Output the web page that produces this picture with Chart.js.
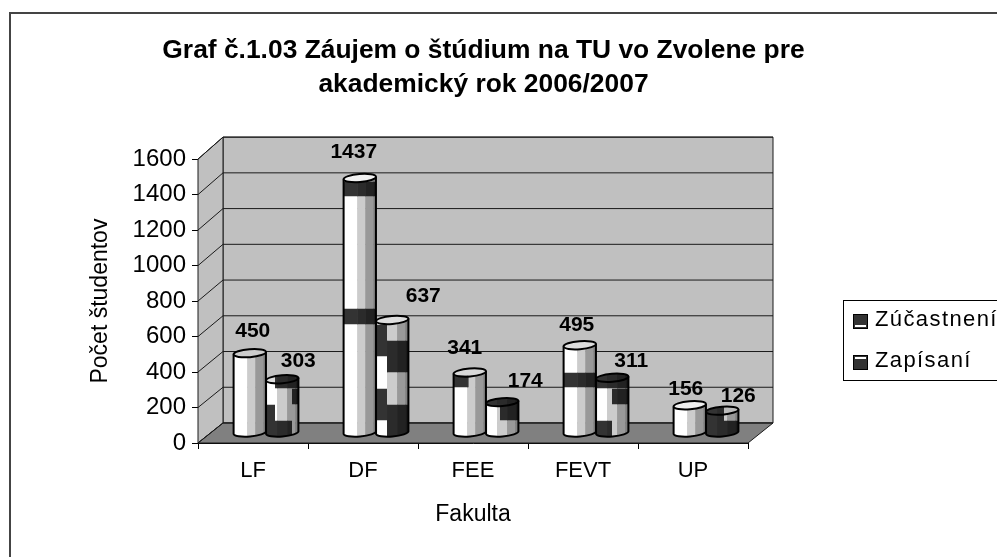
<!DOCTYPE html>
<html>
<head>
<meta charset="utf-8">
<style>
	html, body { margin: 0; padding: 0; background: #fff; overflow: hidden; }
	#wrap { position: absolute; left: 0; top: 0; width: 997px; height: 557px; }
</style>
<script src="https://cdn.jsdelivr.net/npm/chart.js@4"></script>
</head>
<body>
<div id="wrap"><canvas id="chart" width="997" height="557"></canvas></div>
<script>
const categories = ["LF", "DF", "FEE", "FEVT", "UP"];
const zucastneni = [450, 1437, 341, 495, 156];
const zapisani = [303, 637, 174, 311, 126];
const yTicks = [0, 200, 400, 600, 800, 1000, 1200, 1400, 1600];
const titleLines = ["Graf č.1.03 Záujem o štúdium na TU vo Zvolene pre", "akademický rok 2006/2007"];

// 3D look, nothing here is data
const depthX = 25;
const depthY = 20;
const barShift = 13;
const barDrop = 10;
const bodyColumns = [
	[[0.42, "#ffffff", "#333333"], [0.67, "#cccccc", "#2b2b2b"], [0.92, "#999999", "#222222"], [1, "#808080", "#1a1a1a"]],
	[[0.34, "#ffffff", "#333333"], [0.65, "#cccccc", "#2b2b2b"], [0.9, "#999999", "#222222"], [1, "#808080", "#1a1a1a"]],
];
// dark blocks on the cylinders: [from, to, above base top, above base bottom] in px
const darkBlocks = [
	[
		[],
		[[0, 34, 251, 236], [0, 34, 124, 108]],
		[[0, 15, 57, 45]],
		[[0, 34, 60, 45]],
		[],
	],
	[
		[[9, 34, 200, 44], [26, 34, 44, 28], [0, 9, 28, -10], [9, 26, 12, -10]],
		[[0, 11, 108, 76], [11, 34, 92, 60], [0, 11, 44, 12], [11, 34, 28, -10]],
		[[0, 14, 40, 28], [14, 34, 40, 12]],
		[[0, 34, 100, 44], [16, 34, 44, 28], [0, 16, 12, -10]],
		[[0, 18, 100, -10], [18, 34, 12, -10]],
	],
];
const capColors = [
	["#cccccc", "#f0f0f0", "#d8d8d8", "#dddddd", "#eeeeee"],
	["#dddddd", "#dddddd", "#333333", "#333333", "#bbbbbb"],
];
// label offset from the top of its bar
const labelOffsets = [
	[[3, -22], [-6, -26], [-5, -24], [-3, -20], [-4, -16]],
	[[16, -18], [31, -24], [23, -21], [19, -17], [16, -14]],
];

function cylinderPath(ctx, cx, rx, yTop, yBase) {
	ctx.beginPath();
	ctx.ellipse(cx, yBase, rx, 4, -0.08, 0, Math.PI);
	ctx.ellipse(cx, yTop, rx, 4, -0.08, Math.PI, Math.PI * 2);
	ctx.closePath();
}

function fillColumns(ctx, left, w, columns, shade, y0, y1) {
	let from = 0;
	columns.forEach((c) => {
		ctx.fillStyle = c[shade];
		ctx.fillRect(left + from * w, y0, (c[0] - from) * w + 0.5, y1 - y0);
		from = c[0];
	});
}

const walls3d = {
	id: "walls3d",
	// the title sits off centre of the plot in the original
	afterLayout(chart) {
		chart.titleBlock.left = 100;
		chart.titleBlock.right = 867;
	},
	beforeDatasetsDraw(chart) {
		const ctx = chart.ctx;
		const a = chart.chartArea;
		const y = chart.scales.y;
		const back = (p) => p - depthY - (a.bottom - p) * 0.007;
		const line = (pts, fill) => {
			ctx.beginPath();
			pts.forEach((p, i) => (i ? ctx.lineTo(p[0], p[1]) : ctx.moveTo(p[0], p[1])));
			if (fill) {
				ctx.closePath();
				ctx.fillStyle = fill;
				ctx.fill();
			}
			ctx.stroke();
		};
		ctx.save();
		ctx.strokeStyle = "#1a1a1a";
		ctx.lineWidth = 1;
		const bl = a.left + depthX;
		const br = a.right + depthX;
		line([[bl, back(a.top)], [br, back(a.top)], [br, back(a.bottom)], [bl, back(a.bottom)]], "#c0c0c0");
		line([[a.left, a.top], [bl, back(a.top)], [bl, back(a.bottom)], [a.left, a.bottom]], "#c0c0c0");
		line([[a.left, a.bottom], [bl, back(a.bottom)], [br, back(a.bottom)], [a.right, a.bottom]], "#808080");
		yTicks.forEach((t) => {
			const p = y.getPixelForValue(t);
			line([[a.left, p], [bl, back(p)], [br, back(p)]]);
		});
		ctx.restore();
	},
};

const cylinders = {
	id: "cylinders",
	afterDatasetsDraw(chart) {
		const ctx = chart.ctx;
		categories.forEach((_, c) => {
			[0, 1].forEach((s) => {
				const bar = chart.getDatasetMeta(s).data[c];
				const w = bar.width;
				const left = bar.x - w / 2 + barShift;
				const cx = left + w / 2;
				const yBase = bar.base - barDrop;
				const yTop = bar.y - barDrop;
				ctx.save();
				cylinderPath(ctx, cx, w / 2, yTop, yBase);
				ctx.save();
				ctx.clip();
				fillColumns(ctx, left, w, bodyColumns[s], 1, yTop - 6, yBase + 6);
				ctx.restore();
				ctx.beginPath();
				ctx.ellipse(cx, yTop, w / 2, 4, -0.08, 0, Math.PI * 2);
				ctx.fillStyle = capColors[s][c];
				ctx.fill();
				cylinderPath(ctx, cx, w / 2, yTop, yBase);
				ctx.save();
				ctx.clip();
				darkBlocks[s][c].forEach((b) => {
					ctx.save();
					ctx.beginPath();
					ctx.rect(left + b[0], yBase - b[2], b[1] - b[0], b[2] - b[3]);
					ctx.clip();
					fillColumns(ctx, left, w, bodyColumns[s], 2, yBase - b[2], yBase - b[3]);
					ctx.restore();
				});
				ctx.restore();
				ctx.strokeStyle = "#000000";
				ctx.lineWidth = 2;
				cylinderPath(ctx, cx, w / 2, yTop, yBase);
				ctx.stroke();
				ctx.beginPath();
				ctx.ellipse(cx, yTop, w / 2, 4, -0.08, 0, Math.PI);
				ctx.stroke();
				ctx.restore();
			});
		});
		// value labels go over everything
		ctx.save();
		ctx.fillStyle = "#000000";
		ctx.font = "bold 21px 'Liberation Sans'";
		ctx.textAlign = "center";
		ctx.textBaseline = "middle";
		[zucastneni, zapisani].forEach((vals, s) => {
			vals.forEach((v, c) => {
				const bar = chart.getDatasetMeta(s).data[c];
				const off = labelOffsets[s][c];
				ctx.fillText(String(v), bar.x + barShift + off[0], bar.y - barDrop + off[1]);
			});
		});
		ctx.restore();
	},
	afterDraw(chart) {
		const ctx = chart.ctx;
		ctx.save();
		// outer frame, runs off the picture on the right and at the bottom
		ctx.strokeStyle = "#444444";
		ctx.lineWidth = 2;
		ctx.strokeRect(10, 13, 1100, 700);
		// legend, cut by the right edge as well
		ctx.strokeStyle = "#000000";
		ctx.lineWidth = 1;
		ctx.fillStyle = "#ffffff";
		ctx.fillRect(843.5, 300.5, 200, 80);
		ctx.strokeRect(843.5, 300.5, 200, 80);
		ctx.font = "22px 'Liberation Sans'";
		ctx.letterSpacing = "1.4px";
		ctx.textBaseline = "middle";
		[0, 1].forEach((s) => {
			const top = s === 0 ? 314 : 355;
			ctx.fillStyle = "#333333";
			ctx.fillRect(853, top, 15, 15);
			ctx.fillStyle = "#ffffff";
			ctx.fillRect(855, s === 0 ? top + 11 : top + 2, 11, 2);
			ctx.strokeStyle = "#000000";
			ctx.strokeRect(853.5, top + 0.5, 14, 14);
			ctx.fillStyle = "#000000";
			ctx.fillText(chart.data.datasets[s].label, 875, top + 6);
		});
		ctx.restore();
	},
};

const ctx = document.getElementById("chart").getContext("2d");
const chart = new Chart(ctx, {
	data: {
		labels: categories,
		datasets: [
			{ type: "bar", label: "Zúčastnení", data: zucastneni, backgroundColor: "transparent", categoryPercentage: 0.59, barPercentage: 1 },
			{ type: "bar", label: "Zapísaní", data: zapisani, backgroundColor: "transparent", categoryPercentage: 0.59, barPercentage: 1 },
		],
	},
	options: {
		responsive: false,
		animation: false,
		layout: { padding: { left: 87, right: 249, top: 0, bottom: 0 } },
		plugins: {
			legend: { display: false },
			tooltip: { enabled: false },
			title: {
				display: true,
				text: titleLines,
				color: "#000000",
				font: { family: "'Liberation Sans'", size: 26.4, weight: "bold", lineHeight: 1.29 },
				padding: { top: 34, bottom: 57 },
				align: "center",
				fullSize: false,
			},
		},
		scales: {
			x: {
				grid: { display: true, drawOnChartArea: false, color: "#000000", tickLength: 6, offset: true },
				border: { color: "#000000" },
				ticks: { color: "#000000", font: { family: "'Liberation Sans'", size: 22 }, padding: 9 },
				title: { display: true, text: "Fakulta", color: "#000000", font: { family: "'Liberation Sans'", size: 23 }, padding: { top: 0, bottom: 29 } },
				afterFit(scale) { scale.height = 114; },
			},
			y: {
				min: 0,
				max: 1600,
				afterBuildTicks(scale) { scale.ticks = yTicks.map((v) => ({ value: v })); },
				grid: { drawOnChartArea: false, color: "#000000", tickLength: 6 },
				border: { color: "#000000" },
				ticks: { color: "#000000", font: { family: "'Liberation Sans'", size: 24 }, padding: 6, callback: (v) => String(v) },
				title: { display: true, text: "Počet študentov", color: "#000000", font: { family: "'Liberation Sans'", size: 23 }, padding: { top: 0, bottom: 0 } },
				afterFit(scale) { scale.width = 111; },
			},
		},
	},
	plugins: [walls3d, cylinders],
});
</script>
</body>
</html>
